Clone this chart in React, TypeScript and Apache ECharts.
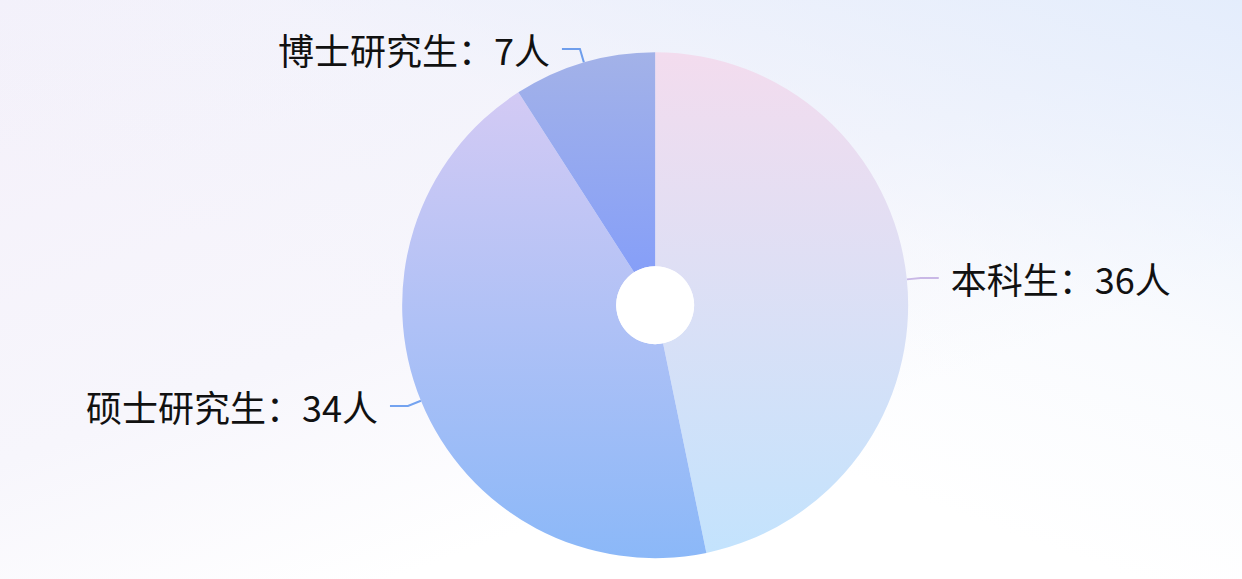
import { useRef, useEffect } from 'react'
import * as echarts from 'echarts'

const categories = ['本科生', '硕士研究生', '博士研究生']
const counts = [36, 34, 7]
const topColors = ['#f3dcee', '#d3caf4', '#a3b2e8']
const bottomColors = ['#c3e3fd', '#8bb8f8', '#869ff8']
const lineColors = ['#c9b8e6', '#74a3f0', '#6f9eec']

export default function App() {
  const chartRef = useRef<HTMLDivElement>(null)

  useEffect(() => {
    if (!chartRef.current) return
    const instance = echarts.init(chartRef.current, undefined, { renderer: 'svg' })

    instance.setOption({
      animation: false,
      backgroundColor: 'transparent',
      series: [
        {
          type: 'pie',
          center: ['52.75%', '52.7%'],
          radius: [39, 253],
          startAngle: 90,
          clockwise: true,
          avoidLabelOverlap: false,
          label: {
            show: true,
            formatter: '{b}：{c}人',
            fontSize: 36,
            color: '#111',
            fontFamily: '"Noto Sans CJK SC", sans-serif',
            distanceToLabelLine: 12,
          },
          labelLine: { show: true, length: 14, length2: 18, lineStyle: { width: 2 } },
          data: categories.map((name, i) => ({
            name,
            value: counts[i],
            itemStyle: {
              color: new echarts.graphic.LinearGradient(0, 0, 0, 1, [
                { offset: 0, color: topColors[i] },
                { offset: 1, color: bottomColors[i] },
              ]),
            },
            labelLine: { lineStyle: { color: lineColors[i], width: 2 } },
          })),
        },
        {
          // white hole in the middle
          type: 'pie',
          center: ['52.75%', '52.7%'],
          radius: [0, 39],
          silent: true,
          label: { show: false },
          labelLine: { show: false },
          itemStyle: { color: '#ffffff' },
          data: [{ name: '', value: 1 }],
        },
      ],
    })

    return () => {
      instance.dispose()
    }
  }, [])

  return (
    <div
      style={{
        position: 'fixed',
        left: 0,
        top: 0,
        width: '100vw',
        height: '100vh',
        background: 'linear-gradient(160deg, #f4f0fa 0%, #f7f6fc 45%, #ffffff 70%), #fff',
      }}
    >
      <div
        style={{
          position: 'absolute',
          inset: 0,
          background: 'linear-gradient(200deg, rgba(226,236,252,0.9) 0%, rgba(240,244,252,0.4) 35%, rgba(255,255,255,0) 60%)',
        }}
      />
      <div ref={chartRef} style={{ position: 'absolute', left: 0, top: 0, width: '100%', height: '100%' }} />
    </div>
  )
}
